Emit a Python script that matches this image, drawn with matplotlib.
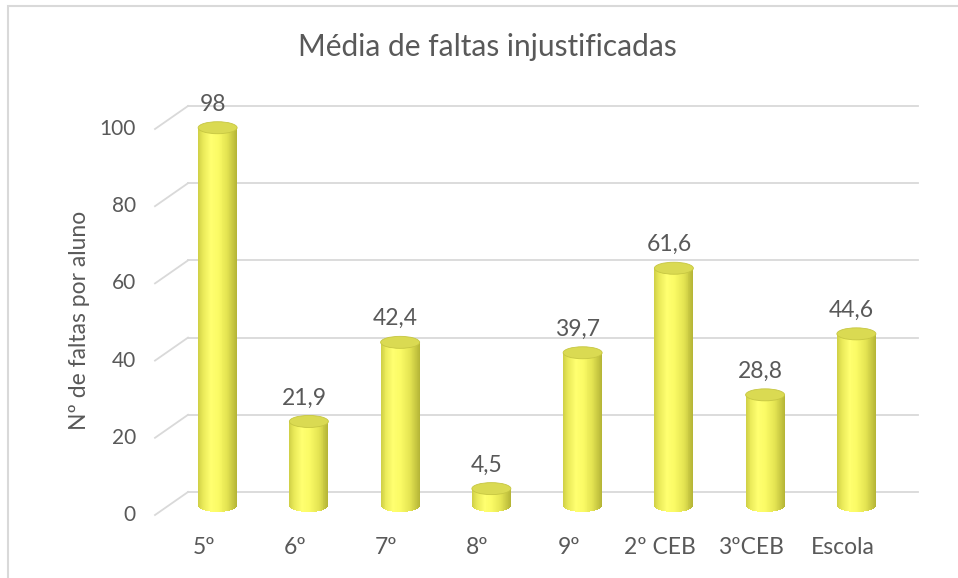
import numpy as np
import matplotlib
matplotlib.use("Agg")
import matplotlib.pyplot as plt
from matplotlib.patches import Ellipse, Rectangle
from matplotlib.colors import LinearSegmentedColormap

plt.rcParams['font.family'] = ['Lato', 'DejaVu Sans']

# data
categorias = ["5º", "6º", "7º", "8º", "9º", "2º CEB", "3ºCEB", "Escola"]
valores = [98, 21.9, 42.4, 4.5, 39.7, 61.6, 28.8, 44.6]
rotulos = ["98", "21,9", "42,4", "4,5", "39,7", "61,6", "28,8", "44,6"]
yticks = [0, 20, 40, 60, 80, 100]

TXT = "#595959"
GRID = "#d9d9d9"

fig = plt.figure(figsize=(9.58, 5.78), dpi=100)
W, H = 958, 578
# back wall of the 3d plot, in pixels
x0, x1, yb0, yb100 = 188, 918, 492, 106
ax = fig.add_axes([x0 / W, 1 - yb0 / H, (x1 - x0) / W, (yb0 - yb100) / H])
ax.set_xlim(0, len(categorias))
ax.set_ylim(0, 100)
ax.axis("off")

pxx = (x1 - x0) / len(categorias)   # pixels per category
pxy = (yb0 - yb100) / 100.0         # pixels per unit

# depth offsets (pixels -> data units)
fdx, fdy = -33 / pxx, -23 / pxy     # front plane
bdx, bdy = -16 / pxx, -14 / pxy     # bar plane

# gridlines: back wall + diagonal on the side wall
for v in yticks:
    ax.plot([0, len(categorias)], [v, v], color=GRID, lw=1.3, clip_on=False, zorder=1)
    ax.plot([fdx, 0], [v + fdy, v], color=GRID, lw=1.3, clip_on=False, zorder=1)
    ax.text(fdx - 19 / pxx, v + fdy, str(v), ha="right", va="center",
            fontsize=15, color=TXT)

# cylinder shading
shade = LinearSegmentedColormap.from_list("cyl", [
    (0.0, "#cfcf45"), (0.12, "#e8e858"), (0.32, "#ffff70"),
    (0.5, "#fbfb66"), (0.75, "#e4e452"), (1.0, "#b4b436")])

bw = 39 / pxx
eh = 12 / pxy
nstrip = 40
edges = np.linspace(-1, 1, nstrip + 1)
mids = (edges[:-1] + edges[1:]) / 2

for i, (v, lab) in enumerate(zip(valores, rotulos)):
    c = i + 0.5 + bdx
    base = bdy
    xs = c + mids * bw / 2
    bottoms = base - eh / 2 * np.sqrt(1 - mids ** 2)
    heights = v + base - bottoms
    cols = [shade((m + 1) / 2) for m in mids]
    ax.bar(xs, heights, width=bw / nstrip * 1.05, bottom=bottoms, color=cols,
           linewidth=0, clip_on=False, zorder=3)
    ax.add_patch(Ellipse((c, v + base), bw, eh, facecolor="#dada52",
                         edgecolor="#c6c642", lw=0.6, clip_on=False, zorder=4))
    ax.annotate(lab, (c, v + base), xytext=(-3.5, 17), textcoords="offset points",
                ha="center", va="center", fontsize=16.5, color=TXT,
                annotation_clip=False, zorder=5)

# category labels
for i, cat in enumerate(categorias):
    ax.text(i + 0.5 - 30 / pxx, (yb0 - 547) / pxy, cat, ha="center", va="center",
            fontsize=16.5, color=TXT)

# axis title
ax.text((79 - x0) / pxx, (yb0 - 320) / pxy, "Nº de faltas por aluno", rotation=90,
        ha="center", va="center", fontsize=16.5, color=TXT)

fig.text(487 / W, 1 - 47 / H, "Média de faltas injustificadas", ha="center",
         va="center", fontsize=21.5, color=TXT)

# chart border
fig.patches.append(Rectangle((8 / W, -0.1), 1.2, 1.1 - 6 / H, transform=fig.transFigure,
                             fill=False, edgecolor=GRID, lw=1.5))

fig.savefig("out.png", dpi=100)
